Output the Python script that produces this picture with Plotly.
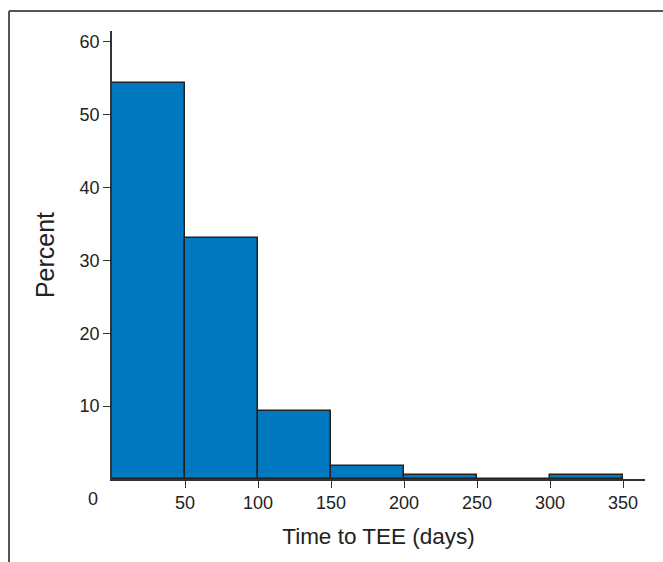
import plotly.graph_objects as go

bin_starts = [0, 50, 100, 150, 200, 250, 300]
bin_width = 50
percent = [54.4, 33.1, 9.4, 1.8, 0.6, 0.0, 0.6]
x_ticks = [50, 100, 150, 200, 250, 300, 350]
y_ticks = [10, 20, 30, 40, 50, 60]

FONT = "Liberation Sans Narrow, Arial Narrow, Liberation Sans, Arial, sans-serif"

fig = go.Figure()
fig.add_trace(go.Bar(
    x=[s + bin_width / 2 for s in bin_starts],
    y=percent,
    width=bin_width,
    marker=dict(color="#0079C1", line=dict(color="#222222", width=1.5)),
    hoverinfo="x+y",
))

W, H = 663, 562
L, R, T, B = 112, 18, 31, 83
pw = W - L - R
ph = H - T - B

def px(xp):
    return (xp - L) / pw

def py(yp):
    return (H - B - yp) / ph

fig.update_layout(
    width=W, height=H,
    margin=dict(l=L, r=R, t=T, b=B),
    paper_bgcolor="white", plot_bgcolor="white",
    showlegend=False,
    bargap=0,
    font=dict(family=FONT, color="#222222", size=18),
    xaxis=dict(
        range=[0, 365], tickvals=x_ticks, ticktext=[str(v) for v in x_ticks],
        showgrid=False, zeroline=False, showline=True, linecolor="#333333", linewidth=1.5,
        ticks="outside", ticklen=7, tickwidth=1.2, tickcolor="#333333",
        tickfont=dict(size=18),
        title=dict(text="Time to TEE (days)", font=dict(size=22.5), standoff=16),
    ),
    yaxis=dict(
        range=[0, 61.5], tickvals=y_ticks,
        showgrid=False, zeroline=False, showline=True, linecolor="#333333", linewidth=1.5,
        ticks="outside", ticklen=7, tickwidth=1.2, tickcolor="#333333",
        tickfont=dict(size=18),
        title=dict(text="Percent", font=dict(size=25), standoff=18),
    ),
    shapes=[
        dict(type="line", xref="paper", yref="paper", x0=px(9), x1=px(663), y0=py(11), y1=py(11),
             line=dict(color="#555555", width=2)),
        dict(type="line", xref="paper", yref="paper", x0=px(9), x1=px(9), y0=py(11), y1=py(562),
             line=dict(color="#555555", width=2)),
    ],
    annotations=[
        dict(text="0", xref="paper", yref="paper", x=px(93), y=py(499), showarrow=False,
             font=dict(size=18, family=FONT, color="#222222"), xanchor="center", yanchor="middle"),
    ],
)

fig.write_html("out.html", config={"displayModeBar": False},
               post_script="document.body.style.margin='0';")
